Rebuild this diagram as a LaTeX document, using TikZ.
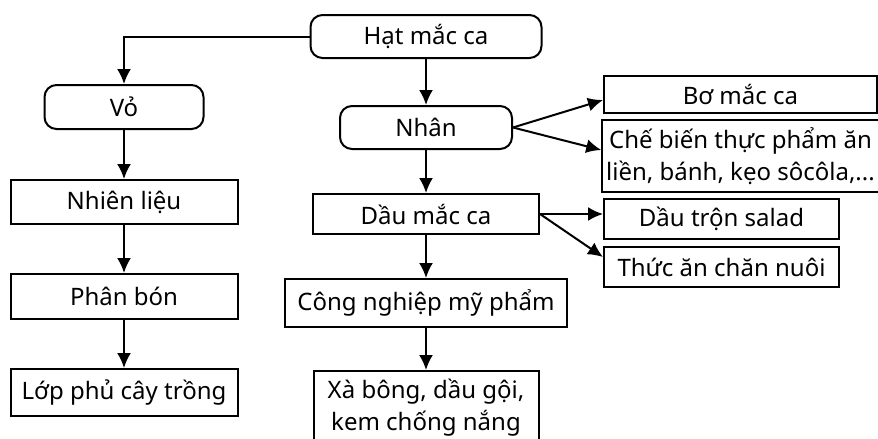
\documentclass[tikz,border=0pt]{standalone}
\usepackage{fontspec}
\setmainfont{Noto Sans}
\usetikzlibrary{arrows.meta,positioning}
\tikzset{
  box/.style={draw,line width=1pt,inner sep=2pt,align=center,
              font=\fontsize{12}{16}\selectfont},
  rbox/.style={box,rounded corners=6pt},
  arr/.style={-{Latex[length=7.5pt,width=7pt]},line width=1pt},
}

\begin{document}
\begin{tikzpicture}[x=0.5pt,y=-0.5pt]
  \useasboundingbox (0,0) rectangle (878,439);
  % top
  \node[rbox,minimum width=115.5pt,minimum height=21.5pt] (hat) at (426,36.5) {Hạt mắc ca};
  % left column
  \node[rbox,minimum width=79.5pt,minimum height=22pt] (vo) at (124,107) {Vỏ};
  \node[box,minimum width=113.5pt,minimum height=22pt] (nhien) at (124,202) {Nhiên liệu};
  \node[box,minimum width=113.5pt,minimum height=22.5pt] (phan) at (124,296.5) {Phân bón};
  \node[box,minimum width=113.5pt,minimum height=23.5pt] (lop) at (124,392.5) {Lớp phủ cây trồng};
  % middle column
  \node[rbox,minimum width=86pt,minimum height=21.5pt] (nhan) at (426,127.5) {Nhân};
  \node[box,minimum width=113pt,minimum height=20pt] (dau) at (426,214) {Dầu mắc ca};
  \node[box,minimum width=141pt,minimum height=24pt] (cong) at (426,303) {Công nghiệp mỹ phẩm};
  \node[box,minimum width=112.5pt,minimum height=37pt] (xa) at (426,408) {Xà bông, dầu gội,\\kem chống nắng};
  % right column
  \node[box,minimum width=136.5pt,minimum height=18.5pt] (bo) at (740.5,94.5) {Bơ mắc ca};
  \node[box,minimum width=136.5pt,minimum height=36pt] (che) at (740.5,156) {Chế biến thực phẩm ăn\\liền, bánh, kẹo sôcôla,...};
  \node[box,minimum width=117.5pt,minimum height=20pt] (salad) at (721.5,219) {Dầu trộn salad};
  \node[box,minimum width=117.5pt,minimum height=20pt] (thuc) at (721.5,267) {Thức ăn chăn nuôi};

  \draw[arr] (hat.west) -| (vo.north);
  \draw[arr] (vo) -- (nhien);
  \draw[arr] (nhien) -- (phan);
  \draw[arr] (phan) -- (lop);
  \draw[arr] (hat) -- (nhan);
  \draw[arr] (nhan) -- (dau);
  \draw[arr] (dau) -- (cong);
  \draw[arr] (cong) -- (xa);
  \draw[arr] (nhan.east) -- ([yshift=-2.75pt]bo.west);
  \draw[arr] (nhan.east) -- ([yshift=3pt]che.west);
  \draw[arr] (dau.east) -- (dau.east -| salad.west);
  \draw[arr] (dau.east) -- ([yshift=5pt]thuc.west);
\end{tikzpicture}
\end{document}
